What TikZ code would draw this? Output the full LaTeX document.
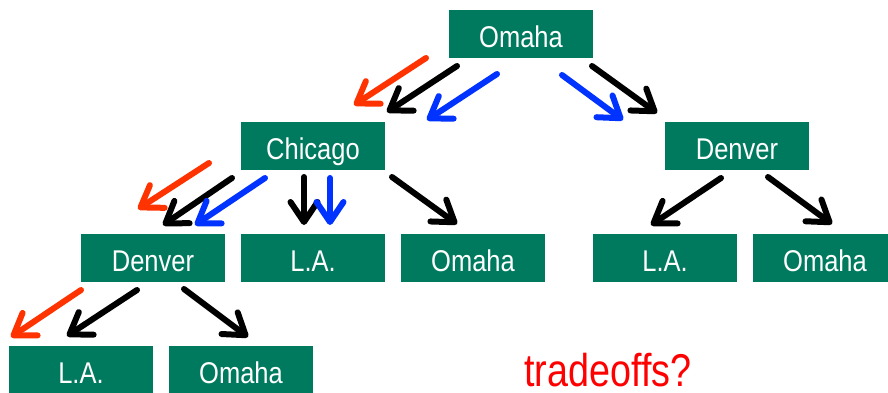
\documentclass[tikz,border=0pt]{standalone}
\usepackage{fontspec}
\setmainfont{Liberation Sans}
\usetikzlibrary{arrows.meta}
\definecolor{teal1}{RGB}{0,122,94}
\definecolor{redarr}{RGB}{255,51,0}
\definecolor{bluearr}{RGB}{0,51,255}
\newcommand{\boxtxt}[1]{\scalebox{0.85}[1]{#1}}
\tikzset{
  city/.style={fill=teal1, text=white, minimum width=144pt, minimum height=48pt,
    inner sep=0pt, font=\fontsize{30pt}{30pt}\selectfont, text height=26pt, text depth=0pt},
  arr/.style={line width=6pt, line cap=round, -{Straight Barb[length=20pt,width=27pt,round]}},
}
\begin{document}
\begin{tikzpicture}[x=1pt,y=-1pt]
\useasboundingbox (0,0) rectangle (888,392);
\clip (0,0) rectangle (888,392);
\node[city] (omaha) at (521,34) {\boxtxt{Omaha}};
\node[city] (chicago) at (313,146) {\boxtxt{Chicago}};
\node[city] (denverR) at (737,146) {\boxtxt{Denver}};
\node[city] (denverL) at (153,258) {\boxtxt{Denver}};
\node[city] (la2) at (313,258) {\boxtxt{L.A.}};
\node[city] (omaha2) at (473,258) {\boxtxt{Omaha}};
\node[city] (laR) at (665,258) {\boxtxt{L.A.}};
\node[city] (omahaR) at (825,258) {\boxtxt{Omaha}};
\node[city] (la3) at (81,370) {\boxtxt{L.A.}};
\node[city] (omaha3) at (241,370) {\boxtxt{Omaha}};
\node[text=red, font=\fontsize{46pt}{46pt}\selectfont, anchor=base, inner sep=0pt, text depth=0pt] (trade) at (608,386) {\scalebox{0.82}[1]{tradeoffs?}};
% Omaha -> Chicago
\draw[arr,redarr] ([shift={(-95,24)}]omaha.center) -- ([shift={(41,-41)}]chicago.center);
\draw[arr,black] ([shift={(-64,32)}]omaha.center) -- ([shift={(74,-34)}]chicago.center);
\draw[arr,bluearr] ([shift={(-24,40)}]omaha.center) -- ([shift={(114,-26)}]chicago.center);
% Omaha -> Denver
\draw[arr,bluearr] ([shift={(41,41)}]omaha.center) -- ([shift={(-114,-26)}]denverR.center);
\draw[arr,black] ([shift={(71,32)}]omaha.center) -- ([shift={(-80,-33)}]denverR.center);
% Chicago -> Denver
\draw[arr,redarr] ([shift={(-104,17)}]chicago.center) -- ([shift={(-15,-49)}]denverL.center);
\draw[arr,black] ([shift={(-81,32)}]chicago.center) -- ([shift={(10,-33)}]denverL.center);
\draw[arr,bluearr] ([shift={(-48,32)}]chicago.center) -- ([shift={(42,-33)}]denverL.center);
% Chicago -> L.A.
\draw[arr,black] ([shift={(-9,31)}]chicago.center) -- ([shift={(-9,-33)}]la2.center);
\draw[arr,bluearr] ([shift={(17,32)}]chicago.center) -- ([shift={(17,-33)}]la2.center);
% Chicago -> Omaha
\draw[arr,black] ([shift={(79,31)}]chicago.center) -- ([shift={(-16,-34)}]omaha2.center);
% Denver R
\draw[arr,black] ([shift={(-16,32)}]denverR.center) -- ([shift={(-14,-33)}]laR.center);
\draw[arr,black] ([shift={(31,31)}]denverR.center) -- ([shift={(7,-34)}]omahaR.center);
% Denver L
\draw[arr,redarr] ([shift={(-72,32)}]denverL.center) -- ([shift={(-70,-33)}]la3.center);
\draw[arr,black] ([shift={(-16,32)}]denverL.center) -- ([shift={(-14,-34)}]la3.center);
\draw[arr,black] ([shift={(31,31)}]denverL.center) -- ([shift={(7,-33)}]omaha3.center);
\end{tikzpicture}
\end{document}
